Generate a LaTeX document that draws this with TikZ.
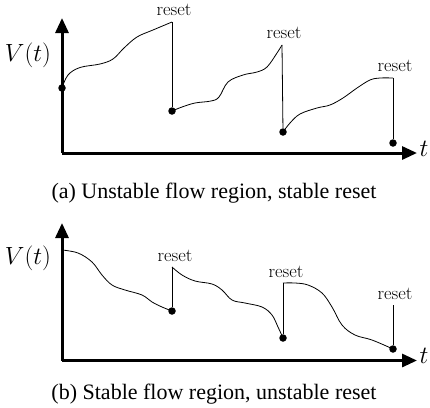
\documentclass[tikz,border=0pt]{standalone}
\usepackage{fontspec}
\newfontfamily\capfont{Liberation Serif}
\usetikzlibrary{arrows.meta}

\begin{document}
\begin{tikzpicture}[
    x=1pt,
    y=-1pt,
    >={Triangle[length=15pt,width=13pt]},
    axis/.style={
        ->,
        line width=3pt,
        draw=black
    },
    dot/.style={
        circle,
        fill=black,
        inner sep=0pt,
        minimum size=7.5pt
    },
    flow/.style={
        line width=0.8pt,
        draw=black
    },
    jump/.style={
        line width=0.8pt,
        draw=black
    },
    lbl/.style={
        font=\fontsize{18.5}{20}\selectfont,
        inner sep=0pt
    },
    caption/.style={
        font=\capfont\fontsize{22}{24}\selectfont,
        inner sep=0pt
    }
]
    \useasboundingbox (0,0) rectangle (430,407);

    % (a) osy
    \coordinate (oa) at (62,153);
    \coordinate (ya) at (62,18);
    \coordinate (xa) at (417,153);
    \draw[axis] (oa) -- (ya);
    \draw[axis] (oa) -- (xa);
    \node[font=\fontsize{26}{28}\selectfont] (va) at (28,55) {$V(t)$};
    \node[font=\fontsize{26}{28}\selectfont] (ta) at (424,149) {$t$};

    % (a) body resetu
    \foreach \n/\x/\y in {
        a0/62/88,a1/172/111,a2/283/132,a3/393/143
    }{
        \node[dot] (\n) at (\x,\y) {};
    }
    \foreach \n/\x/\y in {
        r1/172/22,r2/282/45,r3/393/78
    }{
        \coordinate (\n) at (\x,\y);
    }

    % (a) průběh
    \draw[flow] plot[smooth, tension=0.6] coordinates {
        (a0) (68,75) (80,67.5) (100,64) (113,59) (124,48) (137,37) (153,30) (r1)};
    \draw[flow] plot[smooth, tension=0.6] coordinates {
        (a1) (182,107) (195,103) (211,101) (219,97) (228,82) (243,75)
        (257,72) (267,67) (277,53) (r2)};
    \draw[flow] plot[smooth, tension=0.6] coordinates {
        (a2) (290,123) (300,114) (317,108) (330,105) (343,98) (357,88)
        (370,80) (380,78) (r3)};
    \draw[jump] (r1) -- (a1);
    \draw[jump] (r2) -- (a2);
    \draw[jump] (r3) -- (a3);
    \node[lbl, anchor=base] (la1) at (174,15) {reset};
    \node[lbl, anchor=base] (la2) at (284,38) {reset};
    \node[lbl, anchor=base] (la3) at (395,71) {reset};

    \node[caption] (capa) at (214,193) {(a) Unstable flow region, stable reset};

    % (b) osy
    \coordinate (ob) at (62,360.5);
    \coordinate (yb) at (62,223);
    \coordinate (xb) at (417,360.5);
    \draw[axis] (ob) -- (yb);
    \draw[axis] (ob) -- (xb);
    \node[font=\fontsize{26}{28}\selectfont] (vb) at (28,258) {$V(t)$};
    \node[font=\fontsize{26}{28}\selectfont] (tb) at (424,356) {$t$};

    % (b) body resetu
    \foreach \n/\x/\y in {
        b1/172/311,b2/283/338,b3/393/349
    }{
        \node[dot] (\n) at (\x,\y) {};
    }
    \foreach \n/\x/\y in {
        b0/62/250,s1/172/267,s2/283/283,s3/393/305
    }{
        \coordinate (\n) at (\x,\y);
    }

    % (b) průběh
    \draw[flow] plot[smooth, tension=0.6] coordinates {
        (b0) (78,253) (92,262) (102,275) (112,285) (125,290) (142,295)
        (152,302) (162,307) (b1)};
    \draw[flow] plot[smooth, tension=0.6] coordinates {
        (s1) (182,275) (195,281) (212,284) (222,290) (232,300) (245,303)
        (262,307) (272,315) (278,327) (b2)};
    \draw[flow] plot[smooth, tension=0.6] coordinates {
        (s2) (295,283) (308,285) (322,293) (332,307) (342,325) (355,335)
        (372,340) (b3)};
    \draw[jump] (b1) -- (s1);
    \draw[jump] (b2) -- (s2);
    \draw[jump] (b3) -- (s3);
    \node[lbl, anchor=base] (lb1) at (175,261) {reset};
    \node[lbl, anchor=base] (lb2) at (286,277) {reset};
    \node[lbl, anchor=base] (lb3) at (395,299) {reset};

    \node[caption] (capb) at (214,394) {(b) Stable flow region, unstable reset};

\end{tikzpicture}
\end{document}
